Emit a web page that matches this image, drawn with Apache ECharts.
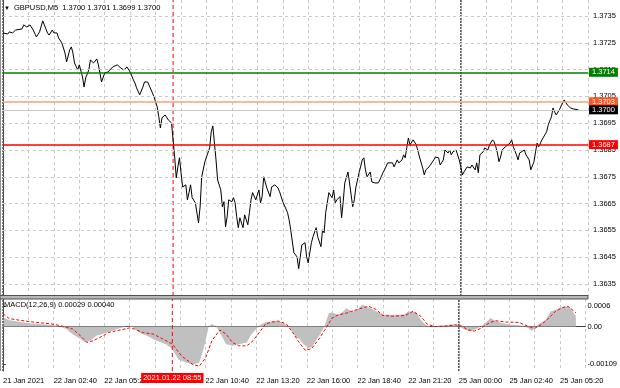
<!DOCTYPE html>
<html><head><meta charset="utf-8">
<script src="https://cdn.jsdelivr.net/npm/echarts@6/dist/echarts.min.js"></script>
<style>html,body{margin:0;padding:0;background:#fff}#c{width:620px;height:388px}</style>
</head><body><div id="c"></div>
<script>
// ---- data ----
const titleText = 'GBPUSD,M5  1.3700 1.3701 1.3699 1.3700';
const macdText = 'MACD(12,26,9) 0.00029 0.00040';
// [bar index (M5 bars from 22 Jan 00:00), close price]
const pricePoints = [[0,1.37287],[3,1.37283],[4,1.37291],[6,1.37287],[8,1.37298],[9,1.37291],[12,1.37302],[13,1.37317],[15,1.37309],[17,1.37317],[19,1.37298],[21,1.37272],[23,1.37291],[25,1.37332],[26,1.37317],[28,1.37287],[29,1.37279],[31,1.37298],[32,1.37287],[34,1.37287],[35,1.37268],[37,1.37250],[39,1.37212],[40,1.37179],[42,1.37224],[43,1.37235],[44,1.37212],[45,1.37175],[47,1.37149],[48,1.37168],[50,1.37123],[51,1.37085],[52,1.37119],[54,1.37149],[55,1.37186],[57,1.37175],[59,1.37190],[60,1.37168],[62,1.37104],[64,1.37138],[66,1.37141],[67,1.37138],[69,1.37160],[72,1.37168],[74,1.37156],[76,1.37149],[78,1.37160],[80,1.37141],[82,1.37112],[83,1.37100],[84,1.37082],[86,1.37056],[88,1.37085],[89,1.37104],[91,1.37104],[92,1.37108],[94,1.37063],[95,1.37048],[97,1.37011],[98,1.36974],[99,1.36932],[100,1.36970],[102,1.36981],[104,1.36962],[105,1.36955],[106,1.36951],[107,1.36888],[108,1.36824],[109,1.36746],[110,1.36787],[111,1.36821],[112,1.36765],[113,1.36712],[115,1.36720],[116,1.36664],[117,1.36691],[118,1.36720],[119,1.36672],[121,1.36653],[123,1.36578],[124,1.36638],[125,1.36750],[127,1.36806],[128,1.36824],[130,1.36858],[131,1.36918],[132,1.36940],[133,1.36876],[134,1.36813],[135,1.36738],[137,1.36701],[138,1.36638],[139,1.36657],[140,1.36563],[141,1.36601],[142,1.36664],[144,1.36657],[145,1.36672],[146,1.36653],[147,1.36601],[148,1.36560],[149,1.36597],[151,1.36560],[152,1.36608],[154,1.36571],[155,1.36616],[156,1.36664],[157,1.36691],[159,1.36664],[161,1.36701],[162,1.36653],[163,1.36676],[164,1.36750],[166,1.36708],[168,1.36676],[169,1.36712],[171,1.36720],[173,1.36708],[174,1.36694],[176,1.36657],[177,1.36653],[179,1.36616],[180,1.36589],[181,1.36552],[183,1.36466],[184,1.36470],[185,1.36451],[186,1.36407],[188,1.36496],[190,1.36504],[191,1.36451],[192,1.36429],[194,1.36504],[195,1.36526],[197,1.36560],[198,1.36526],[200,1.36489],[201,1.36552],[202,1.36541],[203,1.36616],[205,1.36691],[207,1.36672],[208,1.36701],[209,1.36653],[210,1.36664],[212,1.36676],[213,1.36597],[214,1.36657],[215,1.36727],[217,1.36768],[218,1.36727],[220,1.36638],[221,1.36664],[222,1.36712],[224,1.36765],[226,1.36813],[227,1.36821],[228,1.36776],[229,1.36750],[231,1.36768],[232,1.36731],[234,1.36727],[236,1.36727],[237,1.36738],[239,1.36765],[240,1.36776],[242,1.36802],[243,1.36806],[245,1.36802],[246,1.36787],[248,1.36813],[249,1.36802],[251,1.36813],[252,1.36832],[253,1.36821],[254,1.36858],[255,1.36895],[256,1.36869],[258,1.36888],[260,1.36869],[261,1.36862],[262,1.36824],[264,1.36783],[265,1.36757],[266,1.36776],[268,1.36787],[269,1.36783],[271,1.36813],[272,1.36824],[273,1.36824],[274,1.36821],[275,1.36794],[277,1.36813],[278,1.36850],[280,1.36839],[281,1.36850],[282,1.36832],[283,1.36843],[285,1.36850],[287,1.36813],[288,1.36787],[289,1.36757],[290,1.36768],[292,1.36787],[294,1.36783],[295,1.36794],[297,1.36776],[298,1.36802],[299,1.36765],[300,1.36832],[302,1.36843],[303,1.36858],[305,1.36850],[306,1.36869],[308,1.36888],[309,1.36880],[310,1.36862],[311,1.36839],[312,1.36806],[313,1.36824],[314,1.36850],[316,1.36862],[317,1.36862],[319,1.36876],[320,1.36888],[321,1.36862],[323,1.36832],[324,1.36813],[325,1.36839],[326,1.36843],[328,1.36850],[329,1.36832],[331,1.36813],[332,1.36776],[333,1.36783],[334,1.36806],[335,1.36843],[336,1.36876],[337,1.36862],[339,1.36888],[340,1.36895],[342,1.36918],[343,1.36944],[345,1.36974],[346,1.37007],[347,1.36992],[348,1.36981],[350,1.37000],[351,1.37007],[352,1.37026],[353,1.37037],[354,1.37030],[355,1.37018],[356,1.37011],[357,1.37007],[358,1.37000],[359,1.37003],[360,1.36996],[362,1.37000]];
const macdHistPoints = [[0,0.00027],[4,0.00018],[11,0.00013],[19,0.00008],[30,0.00005],[36,0],[40,-0.00007],[44,-0.00022],[49,-0.00036],[52,-0.00046],[55,-0.00041],[59,-0.00027],[66,-0.00017],[72,-0.00007],[78,0],[82,-0.00002],[86,-0.00017],[91,-0.00027],[97,-0.00041],[103,-0.00051],[107,-0.00066],[111,-0.00096],[116,-0.00105],[120,-0.00110],[124,-0.00105],[127,-0.00061],[130,0],[132,0.00008],[135,-0.00002],[137,-0.00017],[141,-0.00051],[145,-0.00056],[149,-0.00051],[154,-0.00046],[157,-0.00022],[162,0.00003],[166,0.00013],[173,0.00016],[176,0.00013],[181,-0.00002],[185,-0.00031],[187,-0.00035],[190,-0.00052],[193,-0.00062],[195,-0.00060],[200,-0.00025],[203,0],[206,0.00039],[208,0.00041],[212,0.00034],[215,0.00044],[217,0.00054],[220,0.00044],[224,0.00049],[227,0.00064],[229,0.00059],[232,0.00054],[236,0.00044],[241,0.00034],[246,0.00034],[250,0.00034],[254,0.00036],[256,0.00044],[261,0.00042],[264,0.00020],[267,0.00005],[270,0],[275,0.00002],[282,0.00005],[286,0.00007],[289,-0.00001],[292,-0.00010],[296,-0.00013],[300,-0.00005],[305,0.00010],[308,0.00025],[311,0.00017],[315,0.00010],[321,0.00005],[328,0.00003],[332,-0.00005],[334,-0.00013],[338,0.00005],[343,0.00020],[346,0.00044],[351,0.00052],[355,0.00059],[358,0.00056],[360,0.00044],[362,0.00029]];
const macdSignalPoints = [[0,0.00037],[4,0.00023],[11,0.00018],[19,0.00013],[30,0.00008],[36,0.00003],[40,-0.00002],[44,-0.00007],[49,-0.00027],[53,-0.00046],[57,-0.00041],[61,-0.00032],[67,-0.00017],[74,-0.00010],[80,-0.00004],[83,-0.00007],[88,-0.00017],[95,-0.00022],[101,-0.00036],[107,-0.00051],[113,-0.00086],[120,-0.00110],[124,-0.00115],[128,-0.00091],[132,-0.00041],[137,-0.00010],[141,-0.00022],[145,-0.00046],[149,-0.00056],[154,-0.00056],[157,-0.00046],[162,-0.00017],[166,0.00008],[170,0.00013],[174,0.00016],[179,0.00008],[183,-0.00017],[187,-0.00045],[191,-0.00069],[195,-0.00064],[200,-0.00034],[204,-0.00005],[208,0.00025],[212,0.00034],[217,0.00039],[220,0.00044],[227,0.00054],[231,0.00059],[236,0.00049],[240,0.00032],[246,0.00030],[254,0.00032],[259,0.00044],[264,0.00030],[268,0.00007],[273,0],[279,0.00001],[286,0.00005],[290,0.00001],[294,-0.00010],[298,-0.00013],[302,-0.00005],[307,0.00010],[311,0.00017],[318,0.00013],[326,0.00012],[332,0],[336,-0.00005],[340,0.00005],[345,0.00025],[349,0.00044],[353,0.00054],[357,0.00059],[362,0.00040]];
const priceTicks = [1.3735,1.3725,1.3715,1.3705,1.3695,1.3685,1.3675,1.3665,1.3655,1.3645,1.3635];
const macdTicks = [0.0006, 0, -0.00109];
const macdTickLabels = ['0.0006','0.00','-0.00109'];
const timeTickBars = [0,32,64,96,128,160,192,224,256,288,320,352];
const timeTickLabels = ['21 Jan 2021','22 Jan 02:40','22 Jan 05:20','22 Jan 08:00','22 Jan 10:40','22 Jan 13:20','22 Jan 16:00','22 Jan 18:40','22 Jan 21:20','25 Jan 00:00','25 Jan 02:40','25 Jan 05:20'];
const daySeparatorBars = [0, 288];
const markerBar = 107;
const markerLabel = '2021.01.22 08:55';
const levelPrices = [1.3714, 1.3703, 1.3700, 1.3687];
const levelLabels = ['1.3714','1.3703','1.3700','1.3687'];

// ---- chart ----
const FONT = 'Liberation Sans';
const FS = 7.5;
const PRICE_MIN = 1.36305, PRICE_MAX = 1.37410;
const MACD_MIN = -0.00129, MACD_MAX = 0.0008;
const levelLine = ['#008000','#f5a27c','#c8c8c8','#ff0000'];
const levelBox = ['#008000','#ff5522','#000000','#ff0000'];
const chart = echarts.init(document.getElementById('c'), null, {renderer:'canvas'});
const xBase = {type:'value', min:0, max:368, interval:16,
  splitLine:{show:true, lineStyle:{color:'#c8c8c8', type:[3,3], width:1}},
  axisTick:{show:false}};
const titleStyle = {fontSize:FS, color:'#000', fontWeight:'normal', fontFamily:FONT};
const hidden = {showSymbol:false, silent:true, lineStyle:{width:0, opacity:0}};

function markSeries(xi, yi, data, lineStyle, marks, z) {
  return Object.assign({type:'line', xAxisIndex:xi, yAxisIndex:yi, data:data, z:z}, hidden,
    {markLine:{silent:true, symbol:'none', animation:false, precision:5, lineStyle:lineStyle, label:{show:false}, data:marks}});
}
function vLine(xi, yi, bar, lo, hi, style, z) {
  return {type:'line', xAxisIndex:xi, yAxisIndex:yi, data:[[bar, lo],[bar, hi]], z:z, silent:true,
    showSymbol:false, lineStyle:style};
}

const levelMarks = levelPrices.map((p,i) => ({yAxis:p,
  lineStyle:{color:levelLine[i], type:'solid', width:i===2?1:1.5},
  label:{show:true, position:'end', distance:1, formatter:levelLabels[i], color:'#fff', backgroundColor:levelBox[i],
    padding:[1,3,0,3], lineHeight:8, fontSize:FS, fontFamily:FONT}}));
const sepStyle = {color:'#555555', type:[2,1], width:1.5};
const markerStyle = {color:'#ff0000', type:[4,3], width:1};

const series = [
  markSeries(0, 0, pricePoints, {color:'#c8c8c8', type:[3,3], width:1}, priceTicks.map(p => ({yAxis:p})), 1),
  markSeries(0, 0, pricePoints, {color:'#000', width:1}, levelMarks, 2),
  {type:'line', xAxisIndex:0, yAxisIndex:0, data:pricePoints, z:3,
    showSymbol:false, lineStyle:{color:'#000', width:1}},
  {type:'line', xAxisIndex:1, yAxisIndex:1, data:macdHistPoints, z:2, silent:true,
    showSymbol:false, lineStyle:{width:0, opacity:0}, areaStyle:{color:'#c0c0c0', opacity:1}},
  {type:'line', xAxisIndex:1, yAxisIndex:1, data:macdSignalPoints, z:3, silent:true,
    showSymbol:false, lineStyle:{color:'#ff0000', type:[3,2], width:1}},
  {type:'line', xAxisIndex:1, yAxisIndex:1, data:macdSignalPoints, z:5, silent:true, showSymbol:false,
    lineStyle:{width:0, color:'rgba(0,0,0,0)'},
    markLine:{silent:true, symbol:'none', animation:false, lineStyle:{color:'rgba(255,0,0,0)', width:1},
      data:[{xAxis:markerBar, label:{show:true, position:'start', distance:2, formatter:markerLabel, color:'#fff', backgroundColor:'#ff0000',
        padding:[1,2,1,2], fontSize:FS, fontFamily:FONT, opacity:1}}]}}
];
daySeparatorBars.forEach(b => {
  series.push(vLine(0, 0, b, PRICE_MIN, PRICE_MAX, sepStyle, 2));
  series.push(vLine(1, 1, b, MACD_MIN, MACD_MAX, sepStyle, 2));
});
series.push(vLine(0, 0, markerBar, PRICE_MIN, PRICE_MAX, markerStyle, 2));
series.push(vLine(1, 1, markerBar, MACD_MIN, MACD_MAX, markerStyle, 4));

chart.setOption({
  animation:false,
  backgroundColor:'#fff',
  textStyle:{fontFamily:FONT},
  title:[
    {text:'▼', left:4, top:5, padding:0, textStyle:Object.assign({}, titleStyle, {fontSize:6})},
    {text:titleText, left:14, top:4, padding:0, textStyle:titleStyle},
    {text:macdText, left:4, top:301, padding:0, textStyle:titleStyle}
  ],
  grid:[
    {left:3, right:32, top:0, height:296},
    {left:3, right:32, top:299, height:72}
  ],
  xAxis:[
    Object.assign({}, xBase, {gridIndex:0, axisLine:{show:false}, axisLabel:{show:false}}),
    Object.assign({}, xBase, {gridIndex:1, axisLine:{show:true, lineStyle:{color:'#404040'}},
      axisLabel:{show:true, customValues:timeTickBars, align:'left', margin:6, fontSize:FS, color:'#000', fontFamily:FONT,
        formatter:v => timeTickLabels[timeTickBars.indexOf(v)]}})
  ],
  yAxis:[
    {type:'value', gridIndex:0, position:'right', min:PRICE_MIN, max:PRICE_MAX,
      axisLine:{show:true, lineStyle:{color:'#404040'}},
      axisTick:{show:true, customValues:priceTicks, length:3, lineStyle:{color:'#404040'}},
      axisLabel:{customValues:priceTicks, formatter:v => v.toFixed(4), margin:5, fontSize:FS, color:'#000', fontFamily:FONT},
      splitLine:{show:false}},
    {type:'value', gridIndex:1, position:'right', min:MACD_MIN, max:MACD_MAX,
      axisLine:{show:true, lineStyle:{color:'#404040'}},
      axisTick:{show:true, customValues:macdTicks, length:3, lineStyle:{color:'#404040'}},
      axisLabel:{customValues:macdTicks, formatter:v => macdTickLabels[macdTicks.indexOf(v)], margin:2, fontSize:FS, color:'#000', fontFamily:FONT},
      splitLine:{show:false}}
  ],
  series:series,
  graphic:[
    {type:'rect', shape:{x:0, y:295.5, width:588, height:3.5}, style:{fill:'#b8b8b8', stroke:'#505050', lineWidth:1}, z:10, silent:true},
    {type:'line', shape:{x1:0.5, y1:0, x2:0.5, y2:371}, style:{stroke:'#909090', lineWidth:1}, silent:true}
  ]
});
</script></body></html>
